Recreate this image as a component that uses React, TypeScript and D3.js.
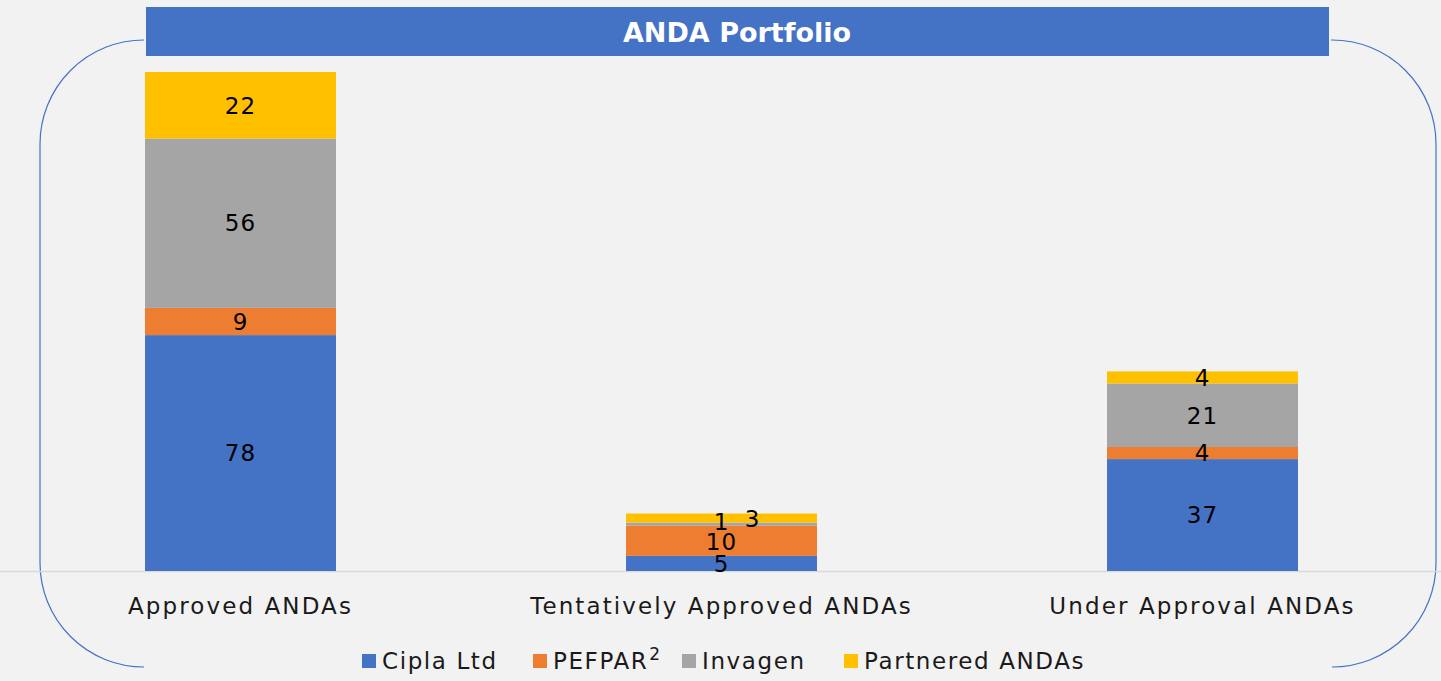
import React, { useEffect, useRef } from "react";
import * as d3 from "d3";

const categories = ["Approved ANDAs", "Tentatively Approved ANDAs", "Under Approval ANDAs"];
const seriesNames = ["Cipla Ltd", "PEFPAR", "Invagen", "Partnered ANDAs"];
const ciplaLtd = [78, 5, 37];
const pefpar = [9, 10, 4];
const invagen = [56, 1, 21];
const partnered = [22, 3, 4];
const colors = ["#4472c4", "#ed7d31", "#a5a5a5", "#ffc000"];
const title = "ANDA Portfolio";

const W = 1441;
const H = 681;
const FONT = "'DejaVu Sans', sans-serif";

export default function App() {
  const ref = useRef<SVGSVGElement | null>(null);

  useEffect(() => {
    document.body.style.margin = "0";
    document.body.style.background = "#f2f2f2";
    const svg = d3.select(ref.current);
    svg.selectAll("*").remove();

    svg.append("rect").attr("width", W).attr("height", H).attr("fill", "#f2f2f2");

    // rounded frame (corners and sides only)
    const L = 40, R = 1436, T = 40, B = 667, r = 104;
    const frame = d3.path();
    frame.moveTo(144, T);
    frame.arcTo(L, T, L, T + r, r);
    frame.lineTo(L, B - r);
    frame.arcTo(L, B, L + r, B, r);
    frame.moveTo(1331, T);
    frame.arcTo(R, T, R, T + r, r);
    frame.lineTo(R, B - r);
    frame.arcTo(R, B, R - r, B, r);
    svg.append("path").attr("d", frame.toString()).attr("fill", "none")
      .attr("stroke", "#4472c4").attr("stroke-width", 1.2);

    // title bar
    svg.append("rect").attr("x", 146).attr("y", 7).attr("width", 1183).attr("height", 49).attr("fill", "#4472c4");
    svg.append("text").attr("x", 737).attr("y", 42).attr("text-anchor", "middle")
      .attr("font-family", FONT).attr("font-weight", "bold").attr("font-size", 27)
      .attr("fill", "#ffffff").text(title);

    const x = d3.scaleBand<string>().domain(categories).range([0, 1443]).paddingInner(0.603).paddingOuter(0.3015);
    const series = [ciplaLtd, pefpar, invagen, partnered];
    const rows = categories.map((c, i) => ({ cat: c, s0: series[0][i], s1: series[1][i], s2: series[2][i], s3: series[3][i] }));
    const stack = d3.stack<any>().keys(["s0", "s1", "s2", "s3"])(rows);
    const y = d3.scaleLinear().domain([0, 165]).range([571, 72]);

    // baseline
    svg.append("line").attr("x1", 0).attr("x2", W).attr("y1", 571.5).attr("y2", 571.5)
      .attr("stroke", "#d9d9d9").attr("stroke-width", 1.5);

    stack.forEach((layer, si) => {
      svg.append("g").selectAll("rect").data(layer).join("rect")
        .attr("x", (d: any) => x(d.data.cat)!)
        .attr("width", x.bandwidth())
        .attr("y", (d: any) => y(d[1]))
        .attr("height", (d: any) => y(d[0]) - y(d[1]))
        .attr("fill", colors[si]);
    });

    stack.forEach((layer, si) => {
      svg.append("g").selectAll("text").data(layer).join("text")
        .attr("x", (d: any) => {
          const cx = x(d.data.cat)! + x.bandwidth() / 2;
          // Excel nudged the small overlapping label aside
          return d.data.cat === categories[1] && si === 3 ? cx + 31 : cx;
        })
        .attr("y", (d: any) => {
          const cy = (y(d[0]) + y(d[1])) / 2;
          if (d.data.cat === categories[1] && si === 3) return cy + 1;
          if (d.data.cat === categories[1] && si === 2) return cy - 2;
          if (d.data.cat === categories[1] && si === 1) return cy + 1;
          return cy;
        })
        .attr("dy", "0.36em")
        .attr("text-anchor", "middle")
        .attr("font-family", FONT).attr("font-size", 23).attr("letter-spacing", 1).attr("fill", "#000")
        .text((d: any) => String(d[1] - d[0]));
    });

    // category labels
    svg.append("g").selectAll("text").data(categories).join("text")
      .attr("x", (c) => x(c)! + x.bandwidth() / 2)
      .attr("y", 614)
      .attr("text-anchor", "middle")
      .attr("font-family", FONT).attr("font-size", 23).attr("letter-spacing", 2.1).attr("fill", "#1a1a1a")
      .text((c) => c);

    // legend
    const legendX = [362, 533, 682, 844];
    const lg = svg.append("g").attr("transform", "translate(0,669)");
    seriesNames.forEach((name, i) => {
      const g = lg.append("g").attr("transform", `translate(${legendX[i]},0)`);
      g.append("rect").attr("x", 0).attr("y", -15).attr("width", 14).attr("height", 14).attr("fill", colors[i]);
      const t = g.append("text").attr("x", 20).attr("y", 0)
        .attr("font-family", FONT).attr("font-size", 23).attr("letter-spacing", 1.6).attr("fill", "#1a1a1a").text(name);
      if (name === "PEFPAR") {
        t.append("tspan").attr("dx", 1).attr("dy", -9).attr("font-size", 17).text("2");
      }
    });
  }, []);

  return (
    <svg ref={ref} width={W} height={H} style={{ position: "absolute", left: 0, top: 0, display: "block" }} />
  );
}
